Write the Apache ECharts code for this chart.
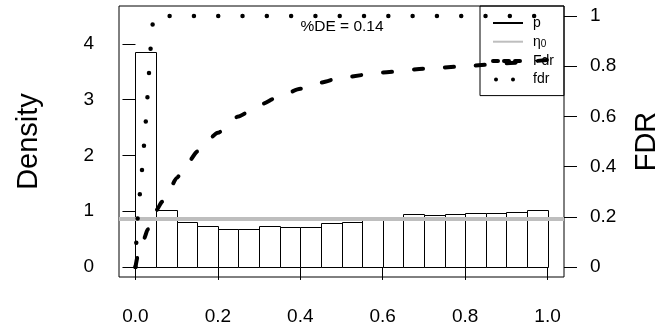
<!DOCTYPE html>
<html>
<head>
<meta charset="utf-8">
<script src="https://cdn.jsdelivr.net/npm/echarts@6/dist/echarts.min.js"></script>
<style>
  html, body { margin: 0; padding: 0; background: #fff; }
  #chart { width: 657px; height: 326px; }
</style>
</head>
<body>
<div id="chart"></div>
<script>
// Histogram of p-values (density scale), 20 bins of width 0.05
const breaks = [0, 0.05, 0.10, 0.15, 0.20, 0.25, 0.30, 0.35, 0.40, 0.45, 0.50,
                0.55, 0.60, 0.65, 0.70, 0.75, 0.80, 0.85, 0.90, 0.95, 1.00];
const density = [3.86, 1.02, 0.80, 0.735, 0.68, 0.68, 0.735, 0.71, 0.71, 0.78,
                 0.80, 0.85, 0.86, 0.945, 0.93, 0.955, 0.97, 0.97, 0.99, 1.03];

// Estimated null proportion and share of differentially expressed genes
const eta0 = 0.86;
const deText = '%DE = 0.14';

// Tail-area false discovery rate (Fdr) against p
const FdrP = [0, 0.005, 0.01, 0.02, 0.03, 0.04, 0.05, 0.065, 0.08, 0.10, 0.125, 0.15,
              0.20, 0.25, 0.30, 0.35, 0.40, 0.45, 0.50, 0.60, 0.70, 0.80, 0.90, 1.00];
const FdrV = [0, 0.04, 0.07, 0.11, 0.15, 0.19, 0.225, 0.26, 0.30, 0.355, 0.41, 0.46,
              0.535, 0.60, 0.645, 0.68, 0.71, 0.735, 0.755, 0.775, 0.79, 0.80, 0.812, 0.825];

// Local false discovery rate (fdr) against p
const fdrP = [0, 0.002, 0.005, 0.01, 0.015, 0.02, 0.025, 0.03, 0.035, 0.04, 0.045, 1.00];
const fdrV = [0, 0.10, 0.19, 0.28, 0.37, 0.47, 0.58, 0.70, 0.83, 0.95, 1.00, 1.00];

// Axis tick positions
const xTicks = [0, 0.2, 0.4, 0.6, 0.8, 1.0];
const densityTicks = [0, 1, 2, 3, 4];
const fdrTicks = [0, 0.2, 0.4, 0.6, 0.8, 1];

const FONT = '"Liberation Sans", Arial, Helvetica, sans-serif';

const bins = density.map((d, i) => [breaks[i], breaks[i + 1], d]);
const pair = (xs, ys) => xs.map((x, i) => [x, ys[i]]);
const X_MIN = -0.04, X_MAX = 1.04;

const chart = echarts.init(document.getElementById('chart'), null, { renderer: 'canvas' });

const tickStyle = { color: '#000', width: 1 };
const labelStyle = { color: '#000', fontSize: 19, fontFamily: FONT };
// legend keys for the line series show only the line, no marker
const noMarker = { color: 'rgba(0,0,0,0)', borderWidth: 0, opacity: 0 };

chart.setOption({
  animation: false,
  backgroundColor: '#fff',
  grid: {
    left: 119, right: 93, top: 6, bottom: 49,
    show: true, borderColor: '#000', borderWidth: 1, backgroundColor: 'transparent',
    outerBoundsMode: 'none'
  },
  xAxis: {
    type: 'value', min: X_MIN, max: X_MAX,
    axisLine: { show: false },
    splitLine: { show: false },
    axisTick: { show: true, length: 13, customValues: xTicks, lineStyle: tickStyle },
    axisLabel: Object.assign({ customValues: xTicks, margin: 30,
      formatter: v => v.toFixed(1) }, labelStyle)
  },
  yAxis: [
    {
      type: 'value', position: 'left', min: -0.18, max: 4.68,
      name: 'Density', nameLocation: 'middle', nameRotate: 90, nameGap: 76,
      nameTextStyle: { color: '#000', fontSize: 29, fontFamily: FONT },
      axisLine: { show: false },
      splitLine: { show: false },
      axisTick: { show: true, length: 13, customValues: densityTicks, lineStyle: tickStyle },
      axisLabel: Object.assign({ customValues: densityTicks, margin: 25,
        formatter: v => String(v) }, labelStyle)
    },
    {
      type: 'value', position: 'right', min: -0.04, max: 1.04,
      name: 'FDR', nameLocation: 'middle', nameRotate: 90, nameGap: 68,
      nameTextStyle: { color: '#000', fontSize: 29, fontFamily: FONT },
      axisLine: { show: false },
      splitLine: { show: false },
      axisTick: { show: true, length: 13, customValues: fdrTicks, lineStyle: tickStyle },
      axisLabel: Object.assign({ customValues: fdrTicks, margin: 26,
        formatter: v => String(v) }, labelStyle)
    }
  ],
  legend: {
    orient: 'vertical', right: 93, top: 6,
    padding: [10, 10, 9, 11], itemGap: 4.7, itemWidth: 30, itemHeight: 14,
    borderColor: '#000', borderWidth: 1, borderRadius: 0,
    backgroundColor: 'transparent',
    textStyle: {
      color: '#000', fontSize: 14, fontFamily: FONT, padding: [0, 0, 0, 5],
      rich: { sub: { fontSize: 10, fontFamily: FONT, color: '#000', verticalAlign: 'bottom', padding: [5, 0, 0, 0] } }
    },
    formatter: name => name === 'η0' ? 'η{sub|0}' : name,
    data: [
      { name: 'p', icon: 'path://M0,0H30V2H0Z', itemStyle: { color: '#000' } },
      { name: 'η0', lineStyle: { width: 2 }, itemStyle: noMarker },
      { name: 'Fdr', lineStyle: { width: 4, type: [5, 6], cap: 'round' }, itemStyle: noMarker },
      { name: 'fdr', lineStyle: { width: 4, type: [0, 17], cap: 'round', dashOffset: -3 }, itemStyle: noMarker }
    ]
  },
  graphic: [{
    type: 'text', x: 342, y: 27, z: 10,
    style: { text: deText, fill: '#000', fontSize: 15.5, fontFamily: FONT,
             align: 'center', verticalAlign: 'middle' }
  }],
  series: [
    {
      name: 'p', type: 'custom', xAxisIndex: 0, yAxisIndex: 0,
      encode: { x: [0, 1], y: 2 },
      data: bins,
      renderItem: (params, api) => {
        const tl = api.coord([api.value(0), api.value(2)]);
        const br = api.coord([api.value(1), 0]);
        return {
          type: 'rect',
          shape: { x: Math.round(tl[0]) + 0.5, y: Math.round(tl[1]) + 0.5,
                   width: Math.round(br[0]) - Math.round(tl[0]),
                   height: Math.round(br[1]) - Math.round(tl[1]) },
          style: { fill: '#fff', stroke: '#000', lineWidth: 1 }
        };
      },
      z: 1
    },
    {
      name: 'η0', type: 'line', xAxisIndex: 0, yAxisIndex: 0,
      data: [[X_MIN, eta0], [X_MAX, eta0]],
      symbol: 'none', silent: true,
      lineStyle: { color: '#bebebe', width: 4 },
      itemStyle: { color: '#bebebe' },
      z: 2
    },
    {
      name: 'Fdr', type: 'line', xAxisIndex: 0, yAxisIndex: 1,
      data: pair(FdrP, FdrV),
      symbol: 'none', smooth: 0.2, smoothMonotone: 'x',
      lineStyle: { color: '#000', width: 4, type: [9, 22], cap: 'round' },
      itemStyle: { color: '#000' },
      z: 3
    },
    {
      name: 'fdr', type: 'line', xAxisIndex: 0, yAxisIndex: 1,
      data: pair(fdrP, fdrV),
      symbol: 'none',
      lineStyle: { color: '#000', width: 4.5, type: [0, 24.3], cap: 'round' },
      itemStyle: { color: '#000' },
      z: 4
    }
  ]
});
</script>
</body>
</html>
